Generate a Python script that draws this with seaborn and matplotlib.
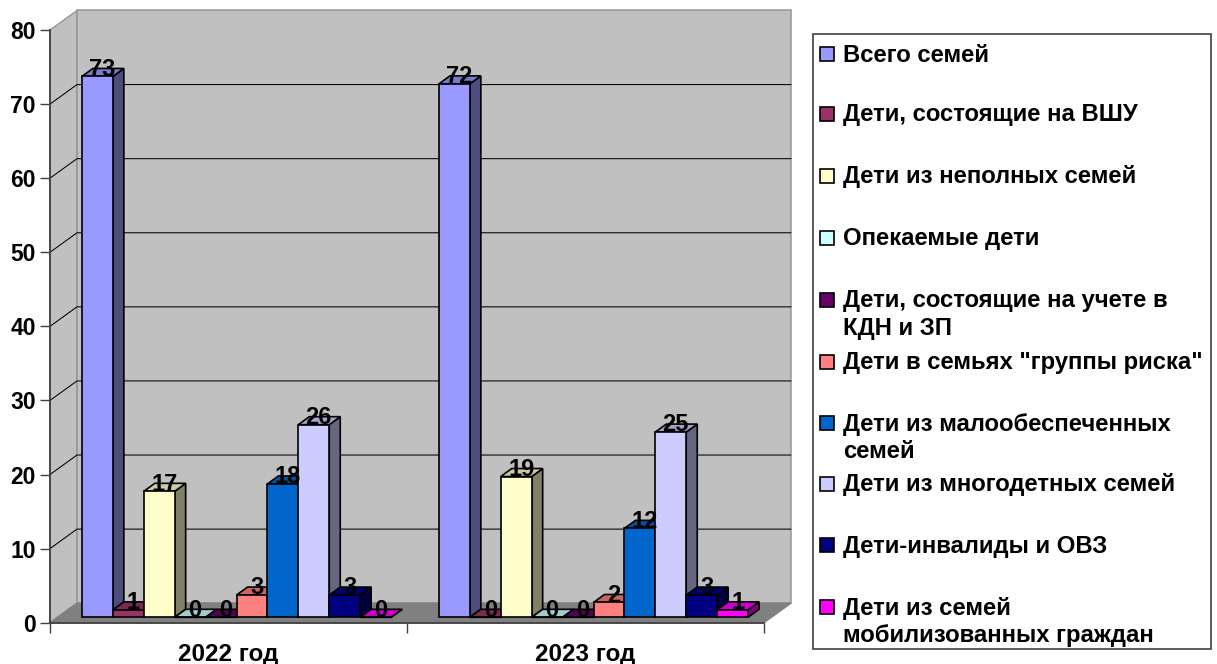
import pandas as pd
import matplotlib.pyplot as plt
from matplotlib.patches import Polygon, Rectangle
import matplotlib.colors as mcolors
import seaborn as sns

years = ["2022 год", "2023 год"]
series_names = [
    "Всего семей",
    "Дети, состоящие на ВШУ",
    "Дети из неполных семей",
    "Опекаемые дети",
    "Дети, состоящие на учете в\nКДН и ЗП",
    "Дети в семьях \"группы риска\"",
    "Дети из малообеспеченных\nсемей",
    "Дети из многодетных семей",
    "Дети-инвалиды и ОВЗ",
    "Дети из семей\nмобилизованных граждан",
]
values_2022 = [73, 1, 17, 0, 0, 3, 18, 26, 3, 0]
values_2023 = [72, 0, 19, 0, 0, 2, 12, 25, 3, 1]
colors = ["#9999FF", "#993366", "#FFFFCC", "#CCFFFF", "#660066",
          "#FF8080", "#0066CC", "#CCCCFF", "#000080", "#FF00FF"]
y_ticks = [0, 10, 20, 30, 40, 50, 60, 70, 80]

W, H = 1217, 664
PX_X = 1 / 357.0    # one pixel in x data units (a category is 357 px wide)
PX_Y = 80 / 592.7   # one pixel in y data units


def shade(color, k):
    r, g, b = mcolors.to_rgb(color)
    return (r * k, g * k, b * k)


sns.set_style("white")
plt.rcParams["font.family"] = ["Liberation Sans", "DejaVu Sans"]
plt.rcParams["font.weight"] = "bold"

fig = plt.figure(figsize=(W / 100, H / 100), dpi=100)
ax = fig.add_axes([50 / W, 1 - 622.7 / H, 714 / W, 592.7 / H])
ax.patch.set_visible(False)

df = pd.DataFrame({
    "year": [years[0]] * len(series_names) + [years[1]] * len(series_names),
    "series": series_names * 2,
    "value": values_2022 + values_2023,
})

sns.barplot(data=df, x="year", y="value", hue="series", hue_order=series_names,
            palette=colors, saturation=1, width=0.866, gap=0, legend=False,
            edgecolor="black", linewidth=1.2, ax=ax, zorder=5)

ax.set_xlim(-0.5, 1.5)
ax.set_ylim(0, 80)
ax.set_xlabel("")
ax.set_ylabel("")

# walls and floor of the fake 3d box
wx, wy = 27 * PX_X, 19.5 * PX_Y
x0, x1 = -0.5, 1.5
wall_edge = "#969696"
ax.add_patch(Polygon([(x0, 0), (x0 + wx, wy), (x0 + wx, 80 + wy), (x0, 80)], closed=True,
                     fc="#C0C0C0", ec=wall_edge, lw=1, clip_on=False, zorder=1))
ax.add_patch(Polygon([(x0 + wx, wy), (x1 + wx, wy), (x1 + wx, 80 + wy), (x0 + wx, 80 + wy)], closed=True,
                     fc="#C0C0C0", ec=wall_edge, lw=1.1, clip_on=False, zorder=1))
ax.add_patch(Polygon([(x0, 0), (x1, 0), (x1 + wx, wy), (x0 + wx, wy)], closed=True,
                     fc="#808080", ec="#808080", lw=1, clip_on=False, zorder=2))
for v in y_ticks[1:-1]:
    ax.plot([x0, x0 + wx, x1 + wx], [v, v + wy, v + wy], color="black", lw=0.75,
            clip_on=False, zorder=2, solid_joinstyle="miter")

# bars stand a bit behind the front plane, then get a top and a side
off_x, off_y = 8 * PX_X, 5.4 * PX_Y
dx, dy = 11 * PX_X, 8 * PX_Y
bars = sorted([p for p in ax.patches if isinstance(p, Rectangle)], key=lambda p: p.get_x())
bars = [b for b in bars if b.get_width() < 0.2]
bar_colors = colors + colors
bar_values = values_2022 + values_2023
for i, bar in enumerate(bars):
    left = bar.get_x() + off_x
    right = left + bar.get_width()
    h = bar_values[i]
    col = bar_colors[i]
    z = 5 + i * 0.1
    bar.set_x(left)
    bar.set_y(off_y)
    bar.set_clip_on(False)
    bar.set_zorder(z + 0.05)
    ax.add_patch(Polygon([(right, off_y), (right + dx, off_y + dy), (right + dx, off_y + dy + h), (right, off_y + h)],
                         closed=True, fc=shade(col, 0.5), ec="black", lw=1.2, clip_on=False, zorder=z))
    ax.add_patch(Polygon([(left, off_y + h), (left + dx, off_y + h + dy), (right + dx, off_y + h + dy), (right, off_y + h)],
                         closed=True, fc=shade(col, 0.8), ec="black", lw=1.2, clip_on=False, zorder=z))
    ax.annotate(str(h), xy=((left + right) / 2, off_y + h), xytext=(3.6, 5.2),
                textcoords="offset points", ha="center", va="center", fontsize=17,
                fontweight="bold", color="black", zorder=20, annotation_clip=False)

# axes
sns.despine(ax=ax, top=True, right=True)
for s in ["left", "bottom"]:
    ax.spines[s].set_color("#404040")
    ax.spines[s].set_linewidth(1.3)
    ax.spines[s].set_zorder(4)
ax.set_yticks(y_ticks)
ax.set_yticklabels([str(v) for v in y_ticks], fontsize=16.5, fontweight="bold", color="black")
ax.set_xticks([0, 1])
ax.set_xticklabels(years, fontsize=17.5, fontweight="bold", color="black")
ax.set_xticks([-0.5, 0.5, 1.5], minor=True)
ax.tick_params(axis="y", length=7.2, width=1, color="#404040", pad=3, left=True)
ax.tick_params(axis="x", which="major", length=0, pad=14.7)
ax.tick_params(axis="x", which="minor", length=7.2, width=1, color="#404040", bottom=True)

# legend box, slots are not even for the wrapped entries so placed by hand
slots = [54, 114, 176, 238, 300, 362, 423, 484, 545, 607]
fig.add_artist(Rectangle((813 / W, 1 - 649 / H), 398 / W, 615 / H, transform=fig.transFigure,
                         fc="white", ec="#404040", lw=1.2))
for name, col, y in zip(series_names, colors, slots):
    fig.add_artist(Rectangle((820.5 / W, 1 - (y + 7) / H), 14 / W, 14 / H, transform=fig.transFigure,
                             fc=col, ec="black", lw=1.2))
    fig.text(843 / W, 1 - (y - 10.5) / H, name, fontsize=17.2, fontweight="bold", color="black",
             ha="left", va="top", linespacing=1.27)

fig.savefig("out.png", dpi=100)
